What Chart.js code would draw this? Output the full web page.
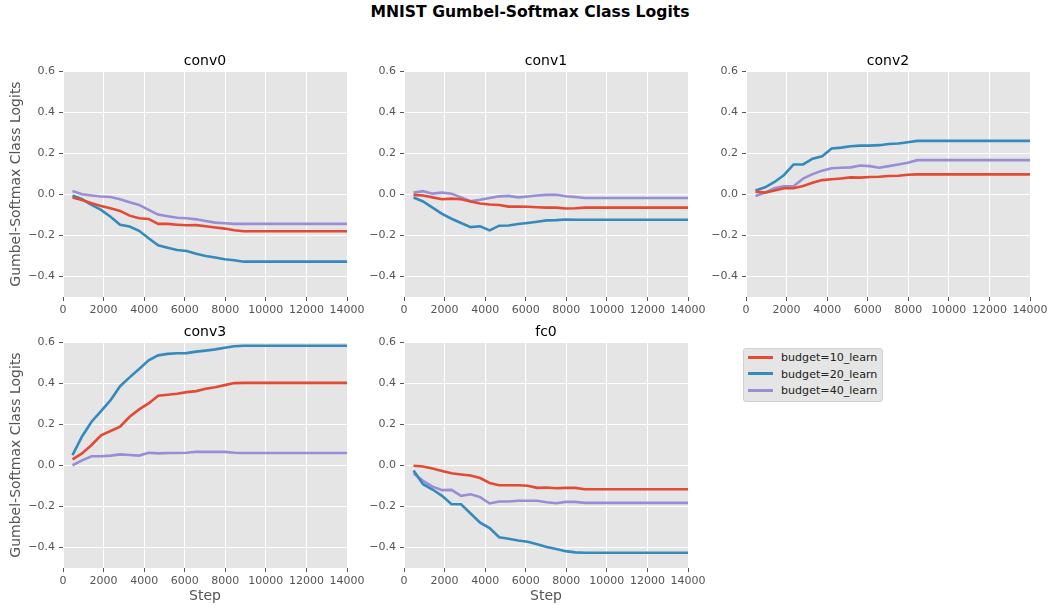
<!DOCTYPE html>
<html>
<head>
<meta charset="utf-8">
<script src="https://cdn.jsdelivr.net/npm/chart.js@4"></script>
<style>
  body { margin: 0; background: #fff; width: 1050px; height: 611px; overflow: hidden; position: relative; font-family: "DejaVu Sans", sans-serif; }
  #title { position: absolute; left: 0; width: 1060px; top: 3px; text-align: center; font-weight: bold; font-size: 15.6px; color: #000; }
  canvas { position: absolute; }
  #legend { position: absolute; left: 743px; top: 348px; width: 140px; height: 54px; background: #e5e5e5; border: 1px solid #d0d0d0; border-radius: 3px; box-sizing: border-box; }
  .row { position: absolute; left: 4px; height: 16px; font-size: 11.1px; color: #222; line-height: 16px; white-space: nowrap; }
  .row span.swatch { display: inline-block; width: 25px; height: 3px; vertical-align: middle; margin-right: 8px; position: relative; top: -1px; }
</style>
</head>
<body>
<div id="title">MNIST Gumbel-Softmax Class Logits</div>
<div id="legend"></div>

<script>
// training steps (one point per epoch, then flat to the end)
const steps = [469, 938, 1407, 1876, 2345, 2814, 3283, 3752, 4221, 4690, 5159, 5628, 6097, 6566, 7035, 7504, 7973, 8442, 8911, 14000];

const seriesNames = ['budget=10_learn', 'budget=20_learn', 'budget=40_learn'];
const seriesColors = ['#E24A33', '#348ABD', '#988ED5'];

const panelTitles = ['conv0', 'conv1', 'conv2', 'conv3', 'fc0'];

// conv0
const conv0_b10 = [-0.016, -0.028, -0.044, -0.057, -0.068, -0.081, -0.104, -0.117, -0.120, -0.144, -0.144, -0.148, -0.151, -0.150, -0.156, -0.162, -0.167, -0.175, -0.180, -0.180];
const conv0_b20 = [-0.006, -0.024, -0.052, -0.076, -0.109, -0.148, -0.157, -0.178, -0.214, -0.248, -0.260, -0.271, -0.276, -0.290, -0.300, -0.308, -0.316, -0.321, -0.328, -0.328];
const conv0_b40 = [0.016, 0.000, -0.006, -0.011, -0.013, -0.024, -0.039, -0.052, -0.076, -0.099, -0.107, -0.114, -0.117, -0.122, -0.130, -0.138, -0.141, -0.144, -0.144, -0.144];

// conv1
const conv1_b10 = [-0.003, -0.006, -0.015, -0.024, -0.021, -0.024, -0.035, -0.045, -0.050, -0.052, -0.060, -0.060, -0.061, -0.063, -0.065, -0.065, -0.069, -0.068, -0.065, -0.065];
const conv1_b20 = [-0.016, -0.035, -0.065, -0.095, -0.119, -0.140, -0.160, -0.156, -0.176, -0.153, -0.152, -0.145, -0.140, -0.134, -0.127, -0.126, -0.123, -0.124, -0.124, -0.124];
const conv1_b40 = [0.008, 0.015, 0.003, 0.008, 0.003, -0.016, -0.034, -0.027, -0.018, -0.010, -0.008, -0.015, -0.011, -0.006, -0.003, -0.002, -0.010, -0.013, -0.018, -0.018];

// conv2
const conv2_b10 = [0.013, 0.008, 0.018, 0.029, 0.029, 0.040, 0.056, 0.069, 0.073, 0.077, 0.082, 0.081, 0.084, 0.085, 0.089, 0.090, 0.095, 0.097, 0.097, 0.097];
const conv2_b20 = [0.018, 0.034, 0.060, 0.094, 0.145, 0.145, 0.173, 0.185, 0.223, 0.227, 0.234, 0.237, 0.237, 0.239, 0.245, 0.247, 0.253, 0.260, 0.260, 0.260];
const conv2_b40 = [-0.008, 0.008, 0.029, 0.039, 0.039, 0.076, 0.098, 0.115, 0.127, 0.129, 0.131, 0.140, 0.137, 0.129, 0.137, 0.145, 0.153, 0.166, 0.166, 0.166];

// conv3
const conv3_b10 = [0.029, 0.058, 0.099, 0.146, 0.167, 0.188, 0.236, 0.272, 0.301, 0.338, 0.343, 0.348, 0.356, 0.361, 0.372, 0.380, 0.390, 0.400, 0.401, 0.401];
const conv3_b20 = [0.049, 0.140, 0.212, 0.264, 0.317, 0.385, 0.428, 0.469, 0.511, 0.535, 0.542, 0.545, 0.546, 0.553, 0.558, 0.564, 0.572, 0.579, 0.582, 0.582];
const conv3_b40 = [0.000, 0.024, 0.044, 0.044, 0.047, 0.053, 0.050, 0.047, 0.061, 0.058, 0.060, 0.060, 0.061, 0.066, 0.065, 0.065, 0.065, 0.061, 0.060, 0.060];

// fc0
const fc0_b10 = [-0.002, -0.006, -0.016, -0.028, -0.039, -0.045, -0.050, -0.062, -0.086, -0.097, -0.097, -0.097, -0.100, -0.110, -0.108, -0.112, -0.110, -0.110, -0.117, -0.117];
const fc0_b20 = [-0.026, -0.092, -0.118, -0.149, -0.190, -0.190, -0.235, -0.279, -0.306, -0.350, -0.358, -0.366, -0.372, -0.384, -0.398, -0.408, -0.418, -0.424, -0.426, -0.426];
const fc0_b40 = [-0.039, -0.076, -0.104, -0.121, -0.120, -0.149, -0.141, -0.155, -0.186, -0.176, -0.176, -0.173, -0.173, -0.173, -0.180, -0.185, -0.178, -0.178, -0.183, -0.183];

const xTicks = [0, 2000, 4000, 6000, 8000, 10000, 12000, 14000];
const yTicks = [-0.4, -0.2, 0.0, 0.2, 0.4, 0.6];

const panelData = [
    [conv0_b10, conv0_b20, conv0_b40],
    [conv1_b10, conv1_b20, conv1_b40],
    [conv2_b10, conv2_b20, conv2_b40],
    [conv3_b10, conv3_b20, conv3_b40],
    [fc0_b10, fc0_b20, fc0_b40]
];

// plot area positions (left, top) of each panel
const panelPos = [[63, 71], [404, 71], [746, 71], [63, 342], [404, 342]];
const plotW = 284, plotH = 226;
const yAxisW = 63, xAxisH = 40, padTop = 20, padRight = 22;

const tickFont = { family: 'DejaVu Sans', size: 11 };
const labelFont = { family: 'DejaVu Sans', size: 14 };
const tickColor = '#555555';

// gray panel background + subplot title
const panelPlugin = {
    id: 'panel',
    beforeDraw(chart, args, opts) {
        const a = chart.chartArea;
        const ctx = chart.ctx;
        ctx.save();
        ctx.fillStyle = '#E5E5E5';
        ctx.fillRect(a.left, a.top, a.right - a.left, a.bottom - a.top);
        ctx.restore();
    },
    afterDraw(chart, args, opts) {
        const a = chart.chartArea;
        const ctx = chart.ctx;
        ctx.save();
        ctx.fillStyle = '#000';
        ctx.font = '14px "DejaVu Sans"';
        ctx.textAlign = 'center';
        ctx.textBaseline = 'alphabetic';
        ctx.fillText(opts.text, (a.left + a.right) / 2, a.top - 6);
        ctx.restore();
    }
};

function fmtY(v) {
    return v.toFixed(1).replace('-', '\u2212');
}

panelTitles.forEach((name, p) => {
    const [px, py] = panelPos[p];
    const canvas = document.createElement('canvas');
    canvas.width = yAxisW + plotW + padRight;
    canvas.height = padTop + plotH + xAxisH;
    canvas.style.left = (px - yAxisW) + 'px';
    canvas.style.top = (py - padTop) + 'px';
    document.body.appendChild(canvas);

    const leftCol = (p === 0 || p === 3);
    const bottomRow = (p >= 3);

    new Chart(canvas.getContext('2d'), {
        type: 'line',
        data: {
            datasets: seriesNames.map((label, i) => ({
                label: label,
                data: steps.map((s, k) => ({ x: s, y: panelData[p][i][k] })),
                borderColor: seriesColors[i],
                backgroundColor: seriesColors[i],
                borderWidth: 2.6,
                pointRadius: 0,
                tension: 0,
                fill: false
            }))
        },
        options: {
            responsive: false,
            animation: false,
            devicePixelRatio: 1,
            layout: { padding: { top: padTop, right: padRight, left: 0, bottom: 0 } },
            plugins: {
                legend: { display: false },
                tooltip: { enabled: false },
                panel: { text: name }
            },
            scales: {
                x: {
                    type: 'linear',
                    min: 0,
                    max: 14000,
                    afterBuildTicks: s => { s.ticks = xTicks.map(v => ({ value: v })); },
                    afterFit: s => { s.height = xAxisH; },
                    grid: { color: '#ffffff', lineWidth: 1, tickColor: tickColor, tickLength: 4, drawTicks: true },
                    border: { display: false },
                    ticks: { color: tickColor, font: tickFont, padding: 3, maxRotation: 0, autoSkip: false, callback: v => String(v) },
                    title: { display: bottomRow, text: 'Step', color: tickColor, font: labelFont, padding: { top: 0, bottom: 3 } }
                },
                y: {
                    type: 'linear',
                    min: -0.5,
                    max: 0.6,
                    afterBuildTicks: s => { s.ticks = yTicks.map(v => ({ value: v })); },
                    afterFit: s => { s.width = yAxisW; },
                    grid: { color: '#ffffff', lineWidth: 1, tickColor: tickColor, tickLength: 4, drawTicks: true },
                    border: { display: false },
                    ticks: { color: tickColor, font: tickFont, padding: 4, callback: v => fmtY(v) },
                    title: { display: leftCol, text: 'Gumbel-Softmax Class Logits', color: tickColor, font: labelFont, padding: { top: 8, bottom: 0 } }
                }
            }
        },
        plugins: [panelPlugin]
    });
});

// legend in the empty sixth slot
const legend = document.getElementById('legend');
seriesNames.forEach((label, i) => {
    const row = document.createElement('div');
    row.className = 'row';
    row.style.top = (1 + i * 16.7) + 'px';
    row.innerHTML = '<span class="swatch" style="background:' + seriesColors[i] + '"></span>' + label;
    legend.appendChild(row);
});
</script>
</body>
</html>
